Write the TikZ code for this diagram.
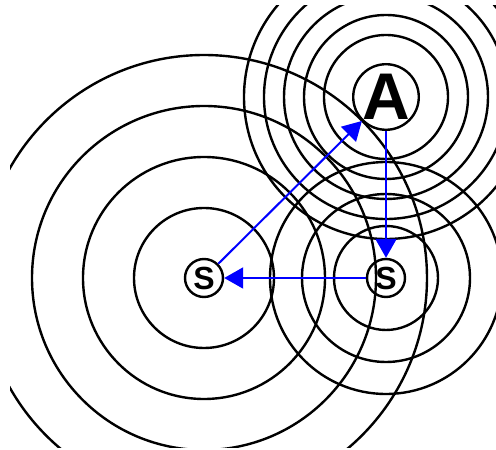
\documentclass[tikz,border=0pt]{standalone}
\usepackage{fontspec}
\setmainfont{Liberation Sans}
\usetikzlibrary{arrows.meta}

\tikzset{
    wave/.style={line width=2.4pt},
    station/.style={circle, draw, line width=2.4pt, inner sep=0pt, minimum size=38pt, font=\bfseries\fontsize{32}{32}\selectfont},
    source/.style={station, minimum size=64pt, font=\bfseries\fontsize{66}{66}\selectfont},
    hop/.style={draw=blue, line width=2pt, -{Triangle[length=19pt, width=21pt]}}
}

\begin{document}
\begin{tikzpicture}[x=1pt, y=1pt]
    \useasboundingbox (0,0) rectangle (496,450);
    \begin{scope}
        \clip (10,2) rectangle (496,444);
        % rings round the left S
        \foreach \r in {70,121,172,223} {
            \draw[wave] (204,172) circle (\r);
        }
        % rings round the right S
        \foreach \r in {52,84,116} {
            \draw[wave] (386,172) circle (\r);
        }
        % rings round A
        \foreach \r in {62,82,102,122,142} {
            \draw[wave] (386,353) circle (\r);
        }
    \end{scope}
    \node[station] (sleft) at (204,172) {S};
    \node[station] (sright) at (386,172) {S};
    \node[source] (a) at (386,353) {A};
    \draw[hop] (sleft) -- (a);
    \draw[hop] (a) -- (sright);
    \draw[hop] (sright) -- (sleft);
\end{tikzpicture}
\end{document}
